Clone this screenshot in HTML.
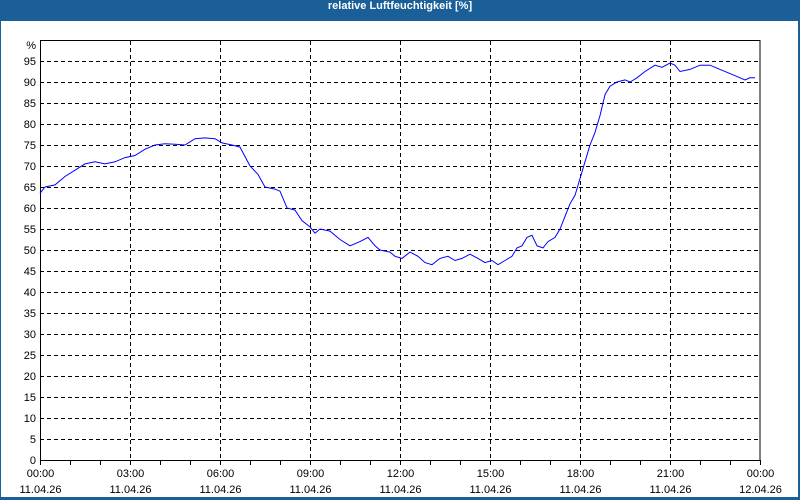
<!DOCTYPE html>
<html><head><meta charset="utf-8"><style>
html,body{margin:0;padding:0;background:#fff}
#w{position:relative;width:800px;height:500px;overflow:hidden;background:#1a5f97}
#t{position:absolute;left:0;top:0;width:800px;height:20px;line-height:19px;text-align:center;color:#fff;font:bold 11px "Liberation Sans",sans-serif}
#in{position:absolute;left:1px;top:21px;width:797px;height:476px;background:#fff}
svg{position:absolute;left:0;top:0}
text{font-family:"Liberation Sans",sans-serif;font-size:11px;fill:#000}
</style></head><body><div id="w"><div id="t">relative Luftfeuchtigkeit [%]</div><div id="in"></div>
<svg id="s" width="800" height="500"></svg></div>
<script>
var s=document.getElementById('s'),h='';
function Y(v){return 460-4.2*v}
for(var v=5;v<=95;v+=5){var y=Y(v)+0.5;h+='<line x1="40" x2="760" y1="'+y+'" y2="'+y+'" stroke="#000" stroke-dasharray="4,3"/>';}
for(var v=0;v<=95;v+=5){h+='<text x="36" y="'+(Y(v)+4)+'" text-anchor="end">'+v+'</text>';}
h+='<text x="36" y="49" text-anchor="end">%</text>';
var lab=['00:00','03:00','06:00','09:00','12:00','15:00','18:00','21:00','00:00'];
for(var i=0;i<=8;i++){var x=40+i*90+0.5;
 if(i>0&&i<8)h+='<line x1="'+x+'" x2="'+x+'" y1="41" y2="460" stroke="#000" stroke-dasharray="4,3"/>';
 h+='<text x="'+x+'" y="477" text-anchor="middle">'+lab[i]+'</text><text x="'+x+'" y="493" text-anchor="middle">'+(i==8?'12.04.26':'11.04.26')+'</text>';}
for(var i=0;i<=24;i++){var x=40+i*30+0.5;h+='<line x1="'+x+'" x2="'+x+'" y1="460" y2="465" stroke="#000"/>';}
h+='<rect x="40.5" y="40.5" width="719.5" height="420" fill="none" stroke="#000"/>';
var d=[40,63.5,45,65,55,65.5,65,67.5,75,69,85,70.5,95,71,105,70.5,115,71,125,72,135,72.5,145,74,155,75,165,75.3,175,75.2,185,75,195,76.5,205,76.7,215,76.5,222,75.5,232,75,240,74.5,250,70,258,68,265,65,275,64.5,280,64,287,60,295,59.5,302,57,310,55.5,315,54,320,55,330,54.5,340,52.5,350,51,360,52,368,53,375,51,380,50,390,49.5,395,48.5,402,48,410,49.5,418,48.5,425,47,432,46.5,440,48,448,48.5,455,47.5,462,48,470,49,478,48,485,47,492,47.5,498,46.5,505,47.5,512,48.5,517,50.5,522,51,527,53,532,53.5,537,51,543,50.5,548,52,555,53,560,55,565,58,570,61,575,63,580,67,585,71,590,75,595,78,600,82,605,87,610,89,617,90,625,90.5,630,90,637,91,645,92.5,655,94,662,93.5,670,94.5,675,94,680,92.5,690,93,700,94,710,94,720,93,730,92,740,91,745,90.5,750,91,755,91];
var p='';for(var i=0;i<d.length;i+=2)p+=d[i]+','+Y(d[i+1]).toFixed(1)+' ';
h+='<polyline points="'+p+'" fill="none" stroke="#0000ff" stroke-width="1"/>';
s.innerHTML=h;
</script></body></html>
